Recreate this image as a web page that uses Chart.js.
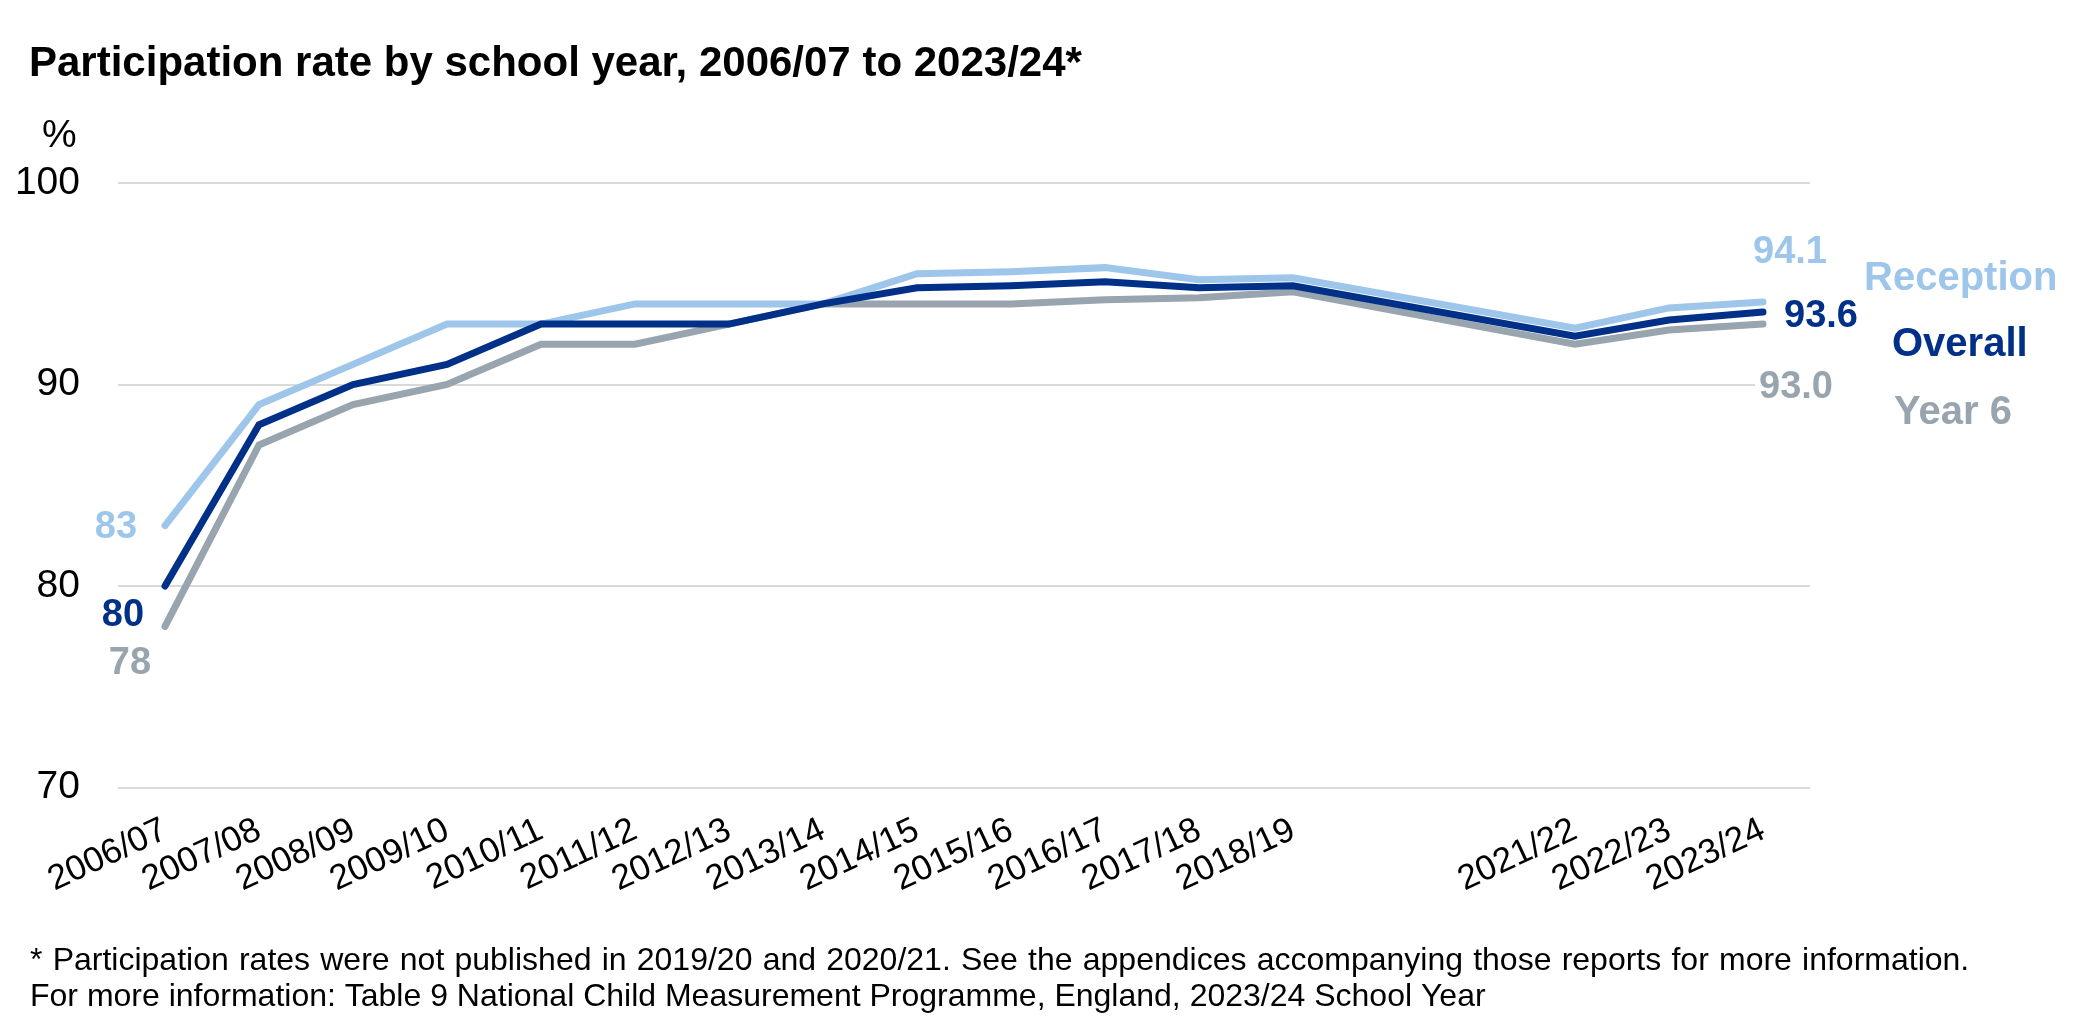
<!DOCTYPE html>
<html>
<head>
<meta charset="utf-8">
<script src="https://cdn.jsdelivr.net/npm/chart.js@4"></script>
<style>
  html, body { margin: 0; padding: 0; background: #fff; }
  #wrap { width: 2080px; height: 1019px; position: relative; }
</style>
</head>
<body>
<div id="wrap"><canvas id="participationChart" width="2080" height="1019"></canvas></div>
<script>
// school years (2019/20 and 2020/21 were not published, so no value and no tick label)
const schoolYears = ["2006/07", "2007/08", "2008/09", "2009/10", "2010/11", "2011/12", "2012/13",
  "2013/14", "2014/15", "2015/16", "2016/17", "2017/18", "2018/19", "2019/20", "2020/21",
  "2021/22", "2022/23", "2023/24"];
const tickLabels = ["2006/07", "2007/08", "2008/09", "2009/10", "2010/11", "2011/12", "2012/13",
  "2013/14", "2014/15", "2015/16", "2016/17", "2017/18", "2018/19", "", "",
  "2021/22", "2022/23", "2023/24"];

// participation rate, %
const reception = [83, 89, 91, 93, 93, 94, 94, 94, 95.5, 95.6, 95.8, 95.2, 95.3, null, null, 92.8, 93.8, 94.1];
const overall   = [80, 88, 90, 91, 93, 93, 93, 94, 94.8, 94.9, 95.1, 94.8, 94.9, null, null, 92.4, 93.2, 93.6];
const year6     = [78, 87, 89, 90, 92, 92, 93, 94, 94.0, 94.0, 94.2, 94.3, 94.6, null, null, 92.0, 92.7, 93.0];

const yTicks = [70, 80, 90, 100];

const seriesNames = ["Reception", "Overall", "Year 6"];

const titleText = "Participation rate by school year, 2006/07 to 2023/24*";
const footnotes = [
  "* Participation rates were not published in 2019/20 and 2020/21. See the appendices accompanying those reports for more information.",
  "For more information: Table 9 National Child Measurement Programme, England, 2023/24 School Year"
];

const LIGHT_BLUE = "#9DC6EA";
const DARK_BLUE = "#003087";
const GREY = "#98A4AE";
const FONT = "'Liberation Sans', Arial, sans-serif";

// where the end labels sit relative to the first / last point (px)
const labelPlaces = {
  "Reception": { first: [-49, 2], last: [27, -49], name: [101, -23] },
  "Overall":   { first: [-42, 30], last: [58, 5], name: [129, 33] },
  "Year 6":    { first: [-35, 37], last: [33, 63], name: [131, 89], box: true }
};

const extras = {
  id: "extras",
  afterDatasetsDraw(chart) {
    const ctx = chart.ctx;
    ctx.save();
    ctx.textBaseline = "middle";
    chart.data.datasets.forEach((ds, i) => {
      const meta = chart.getDatasetMeta(i);
      const pts = meta.data.filter((p, k) => ds.data[k] !== null);
      const first = pts[0];
      const last = pts[pts.length - 1];
      const place = labelPlaces[ds.label];
      const firstVal = ds.data[0];
      const lastVal = ds.data[ds.data.length - 1];

      ctx.fillStyle = ds.borderColor;
      ctx.font = "bold 38px " + FONT;
      ctx.textAlign = "center";
      ctx.fillText(String(firstVal), first.x + place.first[0], first.y + place.first[1]);

      const lastTxt = lastVal.toFixed(1);
      const lx = last.x + place.last[0];
      const ly = last.y + place.last[1];
      if (place.box) {
        const w = ctx.measureText(lastTxt).width;
        ctx.fillStyle = "#fff";
        ctx.fillRect(lx - w / 2 - 4, ly - 22, w + 8, 44);
        ctx.fillStyle = ds.borderColor;
      }
      ctx.fillText(lastTxt, lx, ly);

      ctx.font = "bold 40px " + FONT;
      ctx.textAlign = "left";
      ctx.fillText(ds.label, last.x + place.name[0], last.y + place.name[1]);
    });
    ctx.restore();
  },
  afterDraw(chart) {
    const ctx = chart.ctx;
    ctx.save();
    ctx.fillStyle = "#000";
    ctx.textBaseline = "alphabetic";
    ctx.textAlign = "left";
    ctx.font = "bold 42px " + FONT;
    ctx.fillText(titleText, 29, 76);
    ctx.font = "39px " + FONT;
    ctx.fillText("%", 42, 147);
    ctx.font = "32px " + FONT;
    // first line is justified in the original
    ctx.wordSpacing = "1.3px";
    ctx.fillText(footnotes[0], 30, 970);
    ctx.wordSpacing = "0px";
    ctx.fillText(footnotes[1], 30, 1006);
    ctx.restore();
  }
};

new Chart(document.getElementById("participationChart"), {
  type: "line",
  data: {
    labels: schoolYears,
    datasets: [
      { label: seriesNames[0], data: reception, borderColor: LIGHT_BLUE, order: 1 },
      { label: seriesNames[1], data: overall, borderColor: DARK_BLUE, order: 0 },
      { label: seriesNames[2], data: year6, borderColor: GREY, order: 2 }
    ].map(d => Object.assign(d, {
      borderWidth: 7,
      pointRadius: 0,
      tension: 0,
      spanGaps: true,
      fill: false,
      borderCapStyle: "round"
    }))
  },
  options: {
    responsive: false,
    animation: false,
    devicePixelRatio: 1,
    layout: { padding: { left: 0, right: 270, top: 183, bottom: 0 } },
    plugins: {
      legend: { display: false },
      tooltip: { enabled: false },
      title: { display: false }
    },
    scales: {
      x: {
        offset: true,
        grid: { display: false },
        border: { display: false },
        ticks: {
          autoSkip: false,
          maxRotation: 25,
          minRotation: 25,
          padding: 14,
          color: "#000",
          font: { family: FONT, size: 35 },
          callback: (v, i) => tickLabels[i]
        },
        afterFit: s => { s.height = 231.5; }
      },
      y: {
        min: 70,
        max: 100,
        afterBuildTicks: s => { s.ticks = yTicks.map(v => ({ value: v })); },
        grid: { color: "#D9D9D9", lineWidth: 2, drawTicks: false },
        border: { display: false },
        ticks: {
          padding: 38,
          color: "#000",
          font: { family: FONT, size: 39 }
        },
        afterFit: s => { s.width = 118; }
      }
    }
  },
  plugins: [extras]
});
</script>
</body>
</html>
